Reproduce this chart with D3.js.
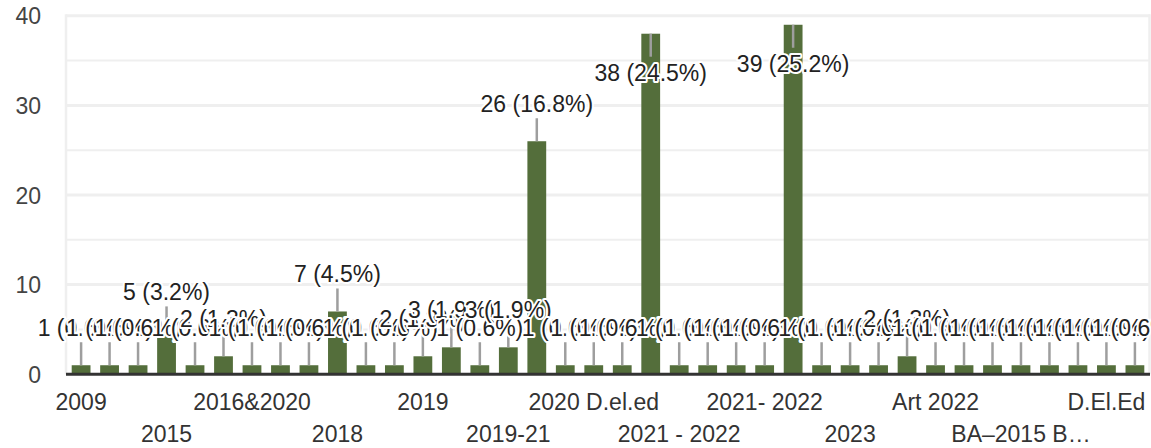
<!DOCTYPE html>
<html>
<head>
<meta charset="utf-8">
<script src="https://cdn.jsdelivr.net/npm/d3@7"></script>
<style>
  html, body { margin: 0; padding: 0; background: #fff; }
  svg text { font-family: "Liberation Sans", Arial, sans-serif; }
</style>
</head>
<body>
<svg id="chart" width="1151" height="448"></svg>
<script>
// counts per category, left to right (38 bars)
const values = [
  1, 1, 1, 5, 1, 2, 1, 1, 1, 7,
  1, 1, 2, 3, 1, 3, 26, 1, 1, 1,
  38, 1, 1, 1, 1, 39, 1, 1, 1, 2,
  1, 1, 1, 1, 1, 1, 1, 1
];

// only every third category name is readable on the axis
const tickLabels = [
  "2009", "2015", "2016&2020", "2018", "2019", "2019-21", "2020 D.el.ed",
  "2021 - 2022", "2021- 2022", "2023", "Art 2022", "BA–2015 B…", "D.El.Ed"
];
const tickEvery = 3;

const yTicks = [0, 10, 20, 30, 40];
const yGrid = [5, 10, 15, 20, 25, 30, 35, 40];

const total = d3.sum(values);
const svg = d3.select("#chart");

const x = d3.scaleBand()
  .domain(d3.range(values.length))
  .range([66, 1150])
  .paddingInner(0.34)
  .paddingOuter(0.2);

const y = d3.scaleLinear().domain([0, 40]).range([374.2, 15.8]);

// ── grid ──
svg.append("g")
  .selectAll("line")
  .data(yGrid)
  .join("line")
  .attr("x1", 66).attr("x2", 1150)
  .attr("y1", d => y(d)).attr("y2", d => y(d))
  .attr("stroke", "#efefef")
  .attr("stroke-width", d => d % 10 === 0 ? 3 : 2);

svg.append("g")
  .selectAll("line")
  .data([66, 1149.5])
  .join("line")
  .attr("x1", d => d).attr("x2", d => d)
  .attr("y1", y(40) - 1.5).attr("y2", y(0))
  .attr("stroke", "#efefef")
  .attr("stroke-width", 2.5);

// ── y axis labels ──
const yAxis = svg.append("g")
  .attr("transform", "translate(41,0)")
  .call(d3.axisLeft(y).tickValues(yTicks).tickSize(0).tickPadding(0));
yAxis.select(".domain").remove();
yAxis.selectAll("text")
  .attr("font-size", 23)
  .attr("fill", "#444")
  .attr("dy", "0.35em")
  .attr("font-family", "Liberation Sans, Arial, sans-serif");

// ── bars ──
svg.append("g")
  .selectAll("rect")
  .data(values)
  .join("rect")
  .attr("x", (d, i) => x(i))
  .attr("width", x.bandwidth())
  .attr("y", d => y(d))
  .attr("height", d => y(0) - y(d))
  .attr("fill", "#546e3b");

// baseline
svg.append("line")
  .attr("x1", 66).attr("x2", 1150)
  .attr("y1", y(0)).attr("y2", y(0))
  .attr("stroke", "#333")
  .attr("stroke-width", 3);

// ── x axis labels, staggered on two rows ──
const xAxis = svg.append("g")
  .attr("transform", `translate(0,${y(0)})`)
  .call(d3.axisBottom(x)
    .tickValues(d3.range(0, values.length, tickEvery))
    .tickFormat(i => tickLabels[i / tickEvery])
    .tickSize(0));
xAxis.select(".domain").remove();
xAxis.selectAll("text")
  .attr("font-size", 23)
  .attr("fill", "#333")
  .attr("font-family", "Liberation Sans, Arial, sans-serif")
  .attr("dy", null)
  .attr("y", (i) => (i / tickEvery) % 2 === 0 ? 36 : 67.5);

// ── value labels with leader lines ──
const labelH = 17;
const flip = v => y(v) - 29 - labelH < 0;

svg.append("g")
  .selectAll("line")
  .data(values)
  .join("line")
  .attr("x1", (d, i) => x(i) + x.bandwidth() / 2)
  .attr("x2", (d, i) => x(i) + x.bandwidth() / 2)
  .attr("y1", d => y(d))
  .attr("y2", d => flip(d) ? y(d) + 23 : y(d) - 23)
  .attr("stroke", "#9e9e9e")
  .attr("stroke-width", 2.5);

svg.append("g")
  .selectAll("text")
  .data(values)
  .join("text")
  .attr("x", (d, i) => x(i) + x.bandwidth() / 2)
  .attr("y", d => flip(d) ? y(d) + 47.5 : y(d) - 29)
  .attr("text-anchor", "middle")
  .attr("font-size", 23)
  .attr("fill", "#222")
  .attr("stroke", "#fff")
  .attr("stroke-width", 4)
  .attr("stroke-linejoin", "round")
  .attr("paint-order", "stroke")
  .text(d => `${d} (${(d / total * 100).toFixed(1)}%)`);
</script>
</body>
</html>
